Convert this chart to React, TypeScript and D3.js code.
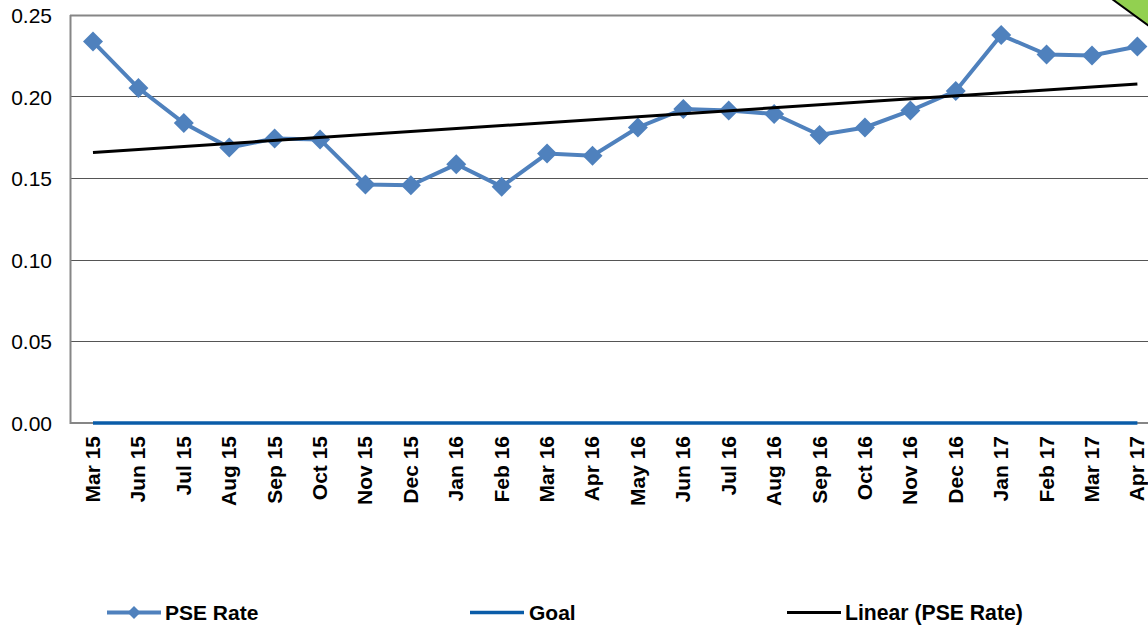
import React from "react";
import * as d3 from "d3";

const months = ["Mar 15","Jun 15","Jul 15","Aug 15","Sep 15","Oct 15","Nov 15","Dec 15","Jan 16","Feb 16","Mar 16","Apr 16","May 16","Jun 16","Jul 16","Aug 16","Sep 16","Oct 16","Nov 16","Dec 16","Jan 17","Feb 17","Mar 17","Apr 17"];
const pseRate = [0.234,0.2055,0.184,0.169,0.1745,0.174,0.1463,0.1458,0.1587,0.145,0.1653,0.164,0.1813,0.1926,0.1917,0.1896,0.1767,0.1813,0.1917,0.2037,0.238,0.226,0.2255,0.231];
const goal = months.map(() => 0);
const trendEnds = [0.166, 0.208];
const yTicks = [0, 0.05, 0.1, 0.15, 0.2, 0.25];

const FONT = "'Liberation Sans', Arial, sans-serif";
const RATE = "#4F81BD";
const GOAL = "#0A5CA8";

export default function App() {
  const x = d3.scalePoint<string>().domain(months).range([93, 1137.4]);
  const y = d3.scaleLinear().domain([0, 0.25]).range([423, 15.5]);
  const line = d3.line<number>().x((_, i) => x(months[i]) as number).y((d) => y(d));
  const marker = (cx: number, cy: number, r: number, key: React.Key) => (
    <polygon key={key} points={`${cx},${cy - r} ${cx + r},${cy} ${cx},${cy + r} ${cx - r},${cy}`} fill={RATE} />
  );
  const trendPath = d3.line<number>()
    .x((_, i) => x(months[i === 0 ? 0 : months.length - 1]) as number)
    .y((d) => y(d))(trendEnds) as string;
  const legendY = 612.5;
  return (
    <svg width={1148} height={625} style={{ position: "absolute", left: 0, top: 0, display: "block" }} fontFamily={FONT}>
      <rect width={1148} height={625} fill="#fff" />
      {yTicks.filter((t) => t > 0 && t < 0.25).map((t) => (
        <line key={t} x1={70} x2={1148} y1={Math.floor(y(t)) + 0.5} y2={Math.floor(y(t)) + 0.5} stroke="#555" strokeWidth={1} />
      ))}
      <line x1={70} x2={1148} y1={15.5} y2={15.5} stroke="#868686" strokeWidth={2} />
      <line x1={70.5} x2={70.5} y1={15} y2={424} stroke="#868686" strokeWidth={2} />
      <line x1={70} x2={1148} y1={423} y2={423} stroke="#868686" strokeWidth={2} />
      {yTicks.map((t) => (
        <text key={t} x={52} y={y(t)} dy="0.36em" textAnchor="end" fontSize={21} fill="#000">{t.toFixed(2)}</text>
      ))}
      {months.map((m) => (
        <text key={m} transform={`translate(${(x(m) as number) + 7},436) rotate(-90)`} textAnchor="end" fontSize={21} fontWeight={700} fill="#000">{m}</text>
      ))}
      <path d={line(goal) as string} fill="none" stroke={GOAL} strokeWidth={3.5} />
      <path d={line(pseRate) as string} fill="none" stroke={RATE} strokeWidth={4} />
      {pseRate.map((v, i) => marker(x(months[i]) as number, y(v), 10, i))}
      <path d={trendPath} fill="none" stroke="#000" strokeWidth={3} />
      <polygon points="1112,-1 1149,-1 1149,26" fill="#92D050" stroke="#000" strokeWidth={2} />

      <line x1={107} x2={161} y1={legendY} y2={legendY} stroke={RATE} strokeWidth={4} />
      {marker(134, legendY, 6.5, "legend")}
      <text x={165} y={legendY} dy="0.36em" fontSize={21} fontWeight={700}>PSE Rate</text>
      <line x1={470} x2={524} y1={legendY} y2={legendY} stroke={GOAL} strokeWidth={3.5} />
      <text x={529} y={legendY} dy="0.36em" fontSize={21} fontWeight={700}>Goal</text>
      <line x1={787} x2={841} y1={legendY} y2={legendY} stroke="#000" strokeWidth={3} />
      <text x={845} y={legendY} dy="0.36em" fontSize={21.2} fontWeight={700}>Linear (PSE Rate)</text>
    </svg>
  );
}
